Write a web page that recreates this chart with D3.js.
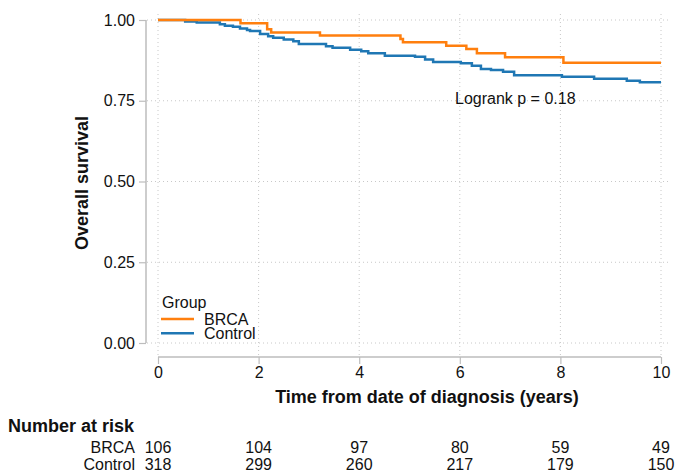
<!DOCTYPE html>
<html>
<head>
<meta charset="utf-8">
<script src="https://cdn.jsdelivr.net/npm/d3@7"></script>
<style>
  body { margin: 0; background: #fff; }
  svg { font-family: "Liberation Sans", Arial, sans-serif; }
</style>
</head>
<body>
<script>
// Kaplan-Meier steps: [time in years, survival]
var brcaSteps = [[0, 1.0], [1.64, 0.990], [2.17, 0.971], [2.25, 0.961], [3.22, 0.952],
  [4.82, 0.941], [4.87, 0.931], [5.73, 0.920], [6.13, 0.910], [6.34, 0.897],
  [6.90, 0.885], [8.06, 0.868], [10, 0.868]];
var controlSteps = [[0, 1.0], [0.54, 0.995], [0.77, 0.992], [1.23, 0.987], [1.33, 0.982],
  [1.49, 0.979], [1.63, 0.974], [1.77, 0.969], [1.83, 0.966], [2.03, 0.957],
  [2.19, 0.950], [2.29, 0.945], [2.50, 0.940], [2.69, 0.934], [2.80, 0.926],
  [3.34, 0.919], [3.47, 0.914], [3.82, 0.908], [4.04, 0.903], [4.18, 0.897],
  [4.51, 0.889], [5.11, 0.886], [5.31, 0.878], [5.47, 0.870], [6.02, 0.866],
  [6.24, 0.858], [6.42, 0.848], [6.62, 0.845], [6.86, 0.840], [7.08, 0.829],
  [8.03, 0.824], [8.67, 0.818], [9.32, 0.812], [9.58, 0.807], [10, 0.807]];

var groups = ["BRCA", "Control"];
var colors = ["#ff7f0e", "#1f77b4"];
var xTicks = [0, 2, 4, 6, 8, 10];
var yTicks = [0, 0.25, 0.5, 0.75, 1];
var riskBRCA = [106, 104, 97, 80, 59, 49];
var riskControl = [318, 299, 260, 217, 179, 150];

var width = 675, height = 475;
var x0 = 158, x1 = 661, yTop = 20, yBot = 343;

var svg = d3.select("body").append("svg")
  .attr("width", width)
  .attr("height", height);

var xScale = d3.scaleLinear().domain([0, 10]).range([x0, x1]);
var yScale = d3.scaleLinear().domain([0, 1]).range([yBot, yTop]);

// gridlines
svg.append("g").selectAll("line").data(yTicks).enter().append("line")
  .attr("x1", 147).attr("x2", 668)
  .attr("y1", function(d) { return yScale(d); })
  .attr("y2", function(d) { return yScale(d); })
  .attr("stroke", "#c8c8c8").attr("stroke-width", 1)
  .attr("stroke-dasharray", "1,3");
svg.append("g").selectAll("line").data(xTicks).enter().append("line")
  .attr("x1", function(d) { return xScale(d); })
  .attr("x2", function(d) { return xScale(d); })
  .attr("y1", 14).attr("y2", 355)
  .attr("stroke", "#c8c8c8").attr("stroke-width", 1)
  .attr("stroke-dasharray", "1,3");

// axes
var yAxis = d3.axisLeft(yScale).tickValues(yTicks).tickFormat(d3.format(".2f")).tickSize(7).tickPadding(4);
var yG = svg.append("g").attr("transform", "translate(146,0)").call(yAxis);
var xAxis = d3.axisBottom(xScale).tickValues(xTicks).tickFormat(d3.format("d")).tickSize(7).tickPadding(3);
var xG = svg.append("g").attr("transform", "translate(0,357)").call(xAxis);

[yG, xG].forEach(function(g) {
  g.select(".domain").attr("stroke", "#bdbdbd").attr("stroke-width", 1.5);
  g.selectAll(".tick line").attr("stroke", "#bdbdbd").attr("stroke-width", 1.2);
  g.selectAll(".tick text").attr("fill", "#111").style("font-size", "16px")
    .style("font-family", "Liberation Sans, Arial, sans-serif");
});
yG.select(".domain").attr("d", "M0," + yTop + "V" + yBot);
xG.select(".domain").attr("d", "M" + x0 + ",0H" + x1);

// survival curves
var line = d3.line()
  .x(function(d) { return xScale(d[0]); })
  .y(function(d) { return yScale(d[1]); })
  .curve(d3.curveStepAfter);

svg.append("path").datum(controlSteps)
  .attr("d", line).attr("fill", "none")
  .attr("stroke", colors[1]).attr("stroke-width", 2.5);
svg.append("path").datum(brcaSteps)
  .attr("d", line).attr("fill", "none")
  .attr("stroke", colors[0]).attr("stroke-width", 2.5);

// annotation
svg.append("text").attr("x", 455).attr("y", 104)
  .style("font-size", "16px").attr("fill", "#111")
  .text("Logrank p = 0.18");

// axis titles
svg.append("text")
  .attr("x", 427).attr("y", 403)
  .attr("text-anchor", "middle")
  .style("font-size", "18px").style("font-weight", "bold").attr("fill", "#111")
  .text("Time from date of diagnosis (years)");
svg.append("text")
  .attr("transform", "translate(88,183) rotate(-90)")
  .attr("text-anchor", "middle")
  .style("font-size", "18px").style("font-weight", "bold").attr("fill", "#111")
  .text("Overall survival");

// legend
var legend = svg.append("g");
legend.append("text").attr("x", 162).attr("y", 308)
  .style("font-size", "16px").attr("fill", "#111").text("Group");
groups.forEach(function(g, i) {
  var ly = 319 + i * 14.3;
  legend.append("line").attr("x1", 161).attr("x2", 194)
    .attr("y1", ly).attr("y2", ly)
    .attr("stroke", colors[i]).attr("stroke-width", 2.5);
  legend.append("text").attr("x", 204).attr("y", ly + 6)
    .style("font-size", "16px").attr("fill", "#111").text(g);
});

// number at risk table
svg.append("text").attr("x", 8).attr("y", 432)
  .style("font-size", "18px").style("font-weight", "bold").attr("fill", "#111")
  .text("Number at risk");

var rows = [riskBRCA, riskControl];
rows.forEach(function(row, i) {
  var ry = 453 + i * 16.5;
  svg.append("text").attr("x", 135).attr("y", ry)
    .attr("text-anchor", "end")
    .style("font-size", "16px").attr("fill", "#111").text(groups[i]);
  svg.append("g").selectAll("text").data(row).enter().append("text")
    .attr("x", function(d, j) { return xScale(xTicks[j]); })
    .attr("y", ry)
    .attr("text-anchor", "middle")
    .style("font-size", "16px").attr("fill", "#111")
    .text(function(d) { return d; });
});
</script>
</body>
</html>
